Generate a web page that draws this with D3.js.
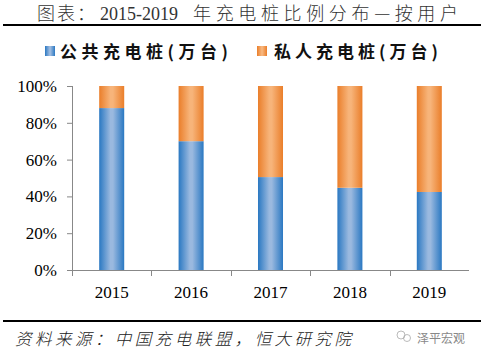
<!DOCTYPE html>
<html><head><meta charset="utf-8">
<script src="https://cdn.jsdelivr.net/npm/d3@7"></script>
<style>body{margin:0;background:#fff}svg{display:block}</style>
</head><body>
<svg id="c" width="486" height="357"></svg>
<script>
const years = ["2015","2016","2017","2018","2019"];
const publicShare = [0.88, 0.70, 0.505, 0.447, 0.424];
const privateShare = [0.12, 0.30, 0.495, 0.553, 0.576];
const yTicks = [0, 0.2, 0.4, 0.6, 0.8, 1.0];
const seriesNames = ["公共充电桩(万台)", "私人充电桩(万台)"];
const titleParts = ["图表：", "2015-2019", "年充电桩比例分布—按用户"];
const source = "资料来源：中国充电联盟，恒大研究院";

const svg = d3.select("#c");
const defs = svg.append("defs");
function grad(id, edge, mid){
  const g = defs.append("linearGradient").attr("id", id).attr("x1","0").attr("x2","1").attr("y1","0").attr("y2","0");
  g.append("stop").attr("offset","0%").attr("stop-color", edge);
  g.append("stop").attr("offset","45%").attr("stop-color", mid);
  g.append("stop").attr("offset","55%").attr("stop-color", mid);
  g.append("stop").attr("offset","100%").attr("stop-color", edge);
}
grad("gb", "#2a78c2", "#9ab9df");
grad("go", "#ea7e2a", "#f7b47a");

const serif = "'Liberation Serif','DejaVu Serif',serif";
const cjk = "'Noto Sans CJK SC','Noto Sans',sans-serif";

// Title
const tg = svg.append("g").attr("fill", "#333").attr("font-weight", 300);
tg.append("text").attr("x", 37).attr("y", 20).attr("font-family", cjk).attr("font-size", 18).attr("textLength", 58).text(titleParts[0]);
tg.append("text").attr("x", 100).attr("y", 20).attr("font-family", serif).attr("font-size", 18).text(titleParts[1]);
tg.append("text").attr("x", 193).attr("y", 20).attr("font-family", cjk).attr("font-size", 18).attr("textLength", 265).text(titleParts[2]);
svg.append("line").attr("x1", 3).attr("x2", 481).attr("y1", 25).attr("y2", 25)
  .attr("stroke", "#000").attr("stroke-width", 2);

// Legend
const leg = [{c:"url(#gb)", x:45, tx:60, t:seriesNames[0], w:168}, {c:"url(#go)", x:257, tx:274, t:seriesNames[1], w:164}];
leg.forEach(l=>{
  svg.append("rect").attr("x", l.x).attr("y", 46).attr("width", 10).attr("height", 10).attr("fill", l.c);
  svg.append("text").attr("x", l.tx).attr("y", 58).attr("font-family", cjk).attr("font-weight","bold")
    .attr("font-size", 17).attr("fill","#111").attr("textLength", l.w).text(l.t);
});

const x = d3.scaleBand().domain(years).range([72, 469]).paddingInner(0.685).paddingOuter(0.3425);
const y = d3.scaleLinear().domain([0,1]).range([270, 86]);

// Bars
years.forEach((yr,i)=>{
  svg.append("rect").attr("x", x(yr)).attr("width", x.bandwidth())
    .attr("y", y(publicShare[i])).attr("height", y(0)-y(publicShare[i])).attr("fill","url(#gb)");
  svg.append("rect").attr("x", x(yr)).attr("width", x.bandwidth())
    .attr("y", y(publicShare[i]+privateShare[i])).attr("height", y(publicShare[i])-y(publicShare[i]+privateShare[i])).attr("fill","url(#go)");
});

// Y axis
const ya = svg.append("g").attr("transform","translate(72,0)")
  .call(d3.axisLeft(y).tickValues(yTicks).tickFormat(d3.format(".0%")).tickSizeOuter(0).tickSize(5).tickPadding(10));
ya.selectAll("path,line").attr("stroke","#888");
ya.selectAll("text").attr("font-family", serif).attr("font-size", 17).attr("fill","#000");

// X axis
const xBoundaries = d3.scaleLinear().domain([0,5]).range([72,469]);
svg.append("line").attr("x1",72).attr("x2",469).attr("y1",270.5).attr("y2",270.5).attr("stroke","#888");
d3.range(1,5).forEach(k=>{
  svg.append("line").attr("x1", Math.round(xBoundaries(k))+0.5).attr("x2", Math.round(xBoundaries(k))+0.5)
    .attr("y1",270).attr("y2",276).attr("stroke","#888");
});
svg.append("line").attr("x1",72.5).attr("x2",72.5).attr("y1",86).attr("y2",276).attr("stroke","#888");
years.forEach(yr=>{
  svg.append("text").attr("x", x(yr)+x.bandwidth()/2).attr("y", 298).attr("text-anchor","middle")
    .attr("font-family", serif).attr("font-size", 17).attr("fill","#000").text(yr);
});

// Footer
svg.append("line").attr("x1", 3).attr("x2", 481).attr("y1", 321).attr("y2", 321)
  .attr("stroke", "#000").attr("stroke-width", 2);
svg.append("text").attr("x", 15).attr("y", 345).attr("font-family", cjk).attr("font-style","italic")
  .attr("font-weight", 300)
  .attr("font-size", 16.5).attr("fill","#222").attr("textLength", 336).text(source);
// watermark
const wm = svg.append("g").attr("transform","translate(403,339)");
wm.append("circle").attr("cx",-2).attr("cy",-4).attr("r",4).attr("fill","none").attr("stroke","#aaa").attr("stroke-width",0.8);
wm.append("circle").attr("cx",4).attr("cy",-1).attr("r",3.5).attr("fill","none").attr("stroke","#aaa").attr("stroke-width",0.8);
svg.append("text").attr("x", 417).attr("y", 343).attr("font-family", cjk).attr("font-size", 12)
  .attr("fill","#888").text("泽平宏观");
</script>
</body></html>
